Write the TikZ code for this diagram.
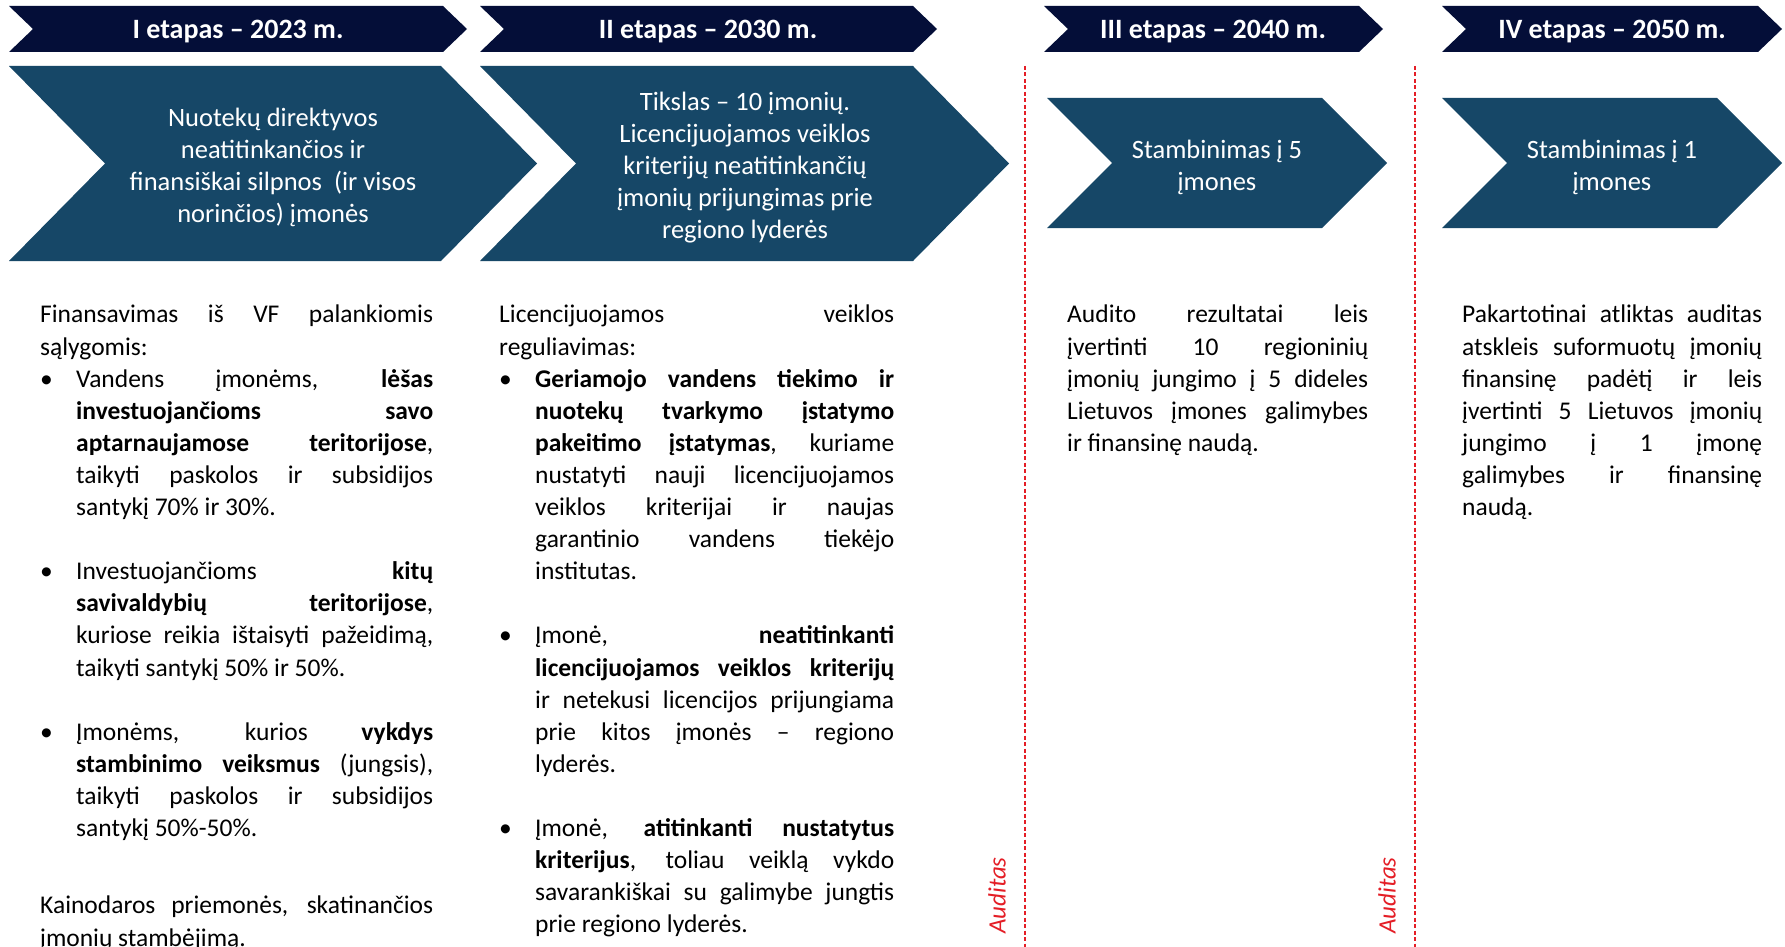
\documentclass[tikz,border=0pt]{standalone}
\usepackage{fontspec}
\setmainfont{Carlito}
\definecolor{hdr}{RGB}{4,14,56}
\definecolor{chv}{RGB}{22,71,103}
\definecolor{aud}{RGB}{228,30,38}
\newcommand{\chevshape}[6]{% colour, x1, x2, ytop, ybot, depth
  \fill[#1] (#2,#4) -- ({#3-#6},#4) -- (#3,{(#4+#5)/2}) -- ({#3-#6},#5) -- (#2,#5) -- ({#2+#6},{(#4+#5)/2}) -- cycle;}
\newcommand{\bitem}[1]{\par\hangindent=36pt\hangafter=1\noindent\makebox[36pt][l]{\textbullet}#1\par}
\newcommand{\gapline}{\vspace{32.1pt}}
\tikzset{
  hdrtext/.style={text=white,font=\fontsize{28}{32}\selectfont\bfseries,inner sep=0},
  chvtext/.style={text=white,font=\fontsize{26.5}{32}\selectfont,align=center,inner sep=0},
  body/.style={font=\fontsize{25.5}{32.1}\selectfont,text width=#1,align=justify,inner sep=0,anchor=north west},
  audline/.style={aud,line width=1.4pt,dash pattern=on 4pt off 2.5pt},
  audtext/.style={text=aud,font=\fontsize{25}{30}\selectfont\itshape,rotate=90,anchor=west,inner sep=0}
}
\begin{document}
\begin{tikzpicture}[x=1pt,y=-1pt]
\clip (0,0) rectangle (1785,947);
\fill[white] (0,0) rectangle (1785,947);
% header chevrons
\chevshape{hdr}{9}{467}{6}{52}{24}
\chevshape{hdr}{480}{937}{6}{52}{24}
\chevshape{hdr}{1044}{1383}{6}{52}{24}
\chevshape{hdr}{1442}{1782}{6}{52}{24}
\node[hdrtext] (h1) at (238,32) {I etapas – 2023 m.};
\node[hdrtext] (h2) at (708,32) {II etapas – 2030 m.};
\node[hdrtext] (h3) at (1213,32) {III etapas – 2040 m.};
\node[hdrtext] (h4) at (1612,32) {IV etapas – 2050 m.};
% big chevrons
\chevshape{chv}{9}{537}{66}{261}{96}
\chevshape{chv}{480}{1009}{66}{261}{96}
\chevshape{chv}{1047}{1387}{98}{228}{65}
\chevshape{chv}{1442}{1782}{98}{228}{65}
\node[chvtext] (c1) at (273,167) {Nuotekų direktyvos\\neatitinkančios ir\\finansiškai silpnos~~(ir visos\\norinčios) įmonės};
\node[chvtext] (c2) at (745,168) {Tikslas – 10 įmonių.\\Licencijuojamos veiklos\\kriterijų neatitinkančių\\įmonių prijungimas prie\\regiono lyderės};
\node[chvtext] (c3) at (1217,167) {Stambinimas į 5\\įmones};
\node[chvtext] (c4) at (1612,167) {Stambinimas į 1\\įmones};
% audit lines
\draw[audline] (1025,66) -- (1025,947);
\draw[audline] (1415,66) -- (1415,947);
\node[audtext] (a1) at (997,934) {Auditas};
\node[audtext] (a2) at (1387,934) {Auditas};
% column texts
\node[body=393pt] (t1) at (40,305) {Finansavimas iš VF palankiomis\linebreak sąlygomis:
\bitem{Vandens įmonėms, \textbf{lėšas}\linebreak\textbf{investuojančioms savo}\linebreak\textbf{aptarnaujamose teritorijose},\linebreak taikyti paskolos ir subsidijos\linebreak santykį 70\% ir 30\%.}
\gapline
\bitem{Investuojančioms \textbf{kitų}\linebreak\textbf{savivaldybių teritorijose},\linebreak kuriose reikia ištaisyti pažeidimą,\linebreak taikyti santykį 50\% ir 50\%.}
\gapline
\bitem{Įmonėms, kurios \textbf{vykdys}\linebreak\textbf{stambinimo veiksmus} (jungsis),\linebreak taikyti paskolos ir subsidijos\linebreak santykį 50\%-50\%.}};
\node[body=393pt] (t1b) at (40,896) {Kainodaros priemonės, skatinančios\linebreak įmonių stambėjimą.};
\node[body=395pt] (t2) at (499,305) {Licencijuojamos veiklos\linebreak reguliavimas:
\bitem{\textbf{Geriamojo vandens tiekimo ir}\linebreak\textbf{nuotekų tvarkymo įstatymo}\linebreak\textbf{pakeitimo įstatymas}, kuriame\linebreak nustatyti nauji licencijuojamos\linebreak veiklos kriterijai ir naujas\linebreak garantinio vandens tiekėjo\linebreak institutas.}
\gapline
\bitem{Įmonė, \textbf{neatitinkanti}\linebreak\textbf{licencijuojamos veiklos kriterijų}\linebreak ir netekusi licencijos prijungiama\linebreak prie kitos įmonės – regiono\linebreak lyderės.}
\gapline
\bitem{Įmonė, \textbf{atitinkanti nustatytus}\linebreak\textbf{kriterijus}, toliau veiklą vykdo\linebreak savarankiškai su galimybe jungtis\linebreak prie regiono lyderės.}};
\node[body=301pt] (t3) at (1067,305) {Audito rezultatai leis\linebreak įvertinti 10 regioninių\linebreak įmonių jungimo į 5 dideles\linebreak Lietuvos įmones galimybes\linebreak ir finansinę naudą.};
\node[body=300pt] (t4) at (1462,305) {Pakartotinai atliktas auditas\linebreak atskleis suformuotų įmonių\linebreak finansinę padėtį ir leis\linebreak įvertinti 5 Lietuvos įmonių\linebreak jungimo į 1 įmonę\linebreak galimybes ir finansinę\linebreak naudą.};
\end{tikzpicture}
\end{document}
